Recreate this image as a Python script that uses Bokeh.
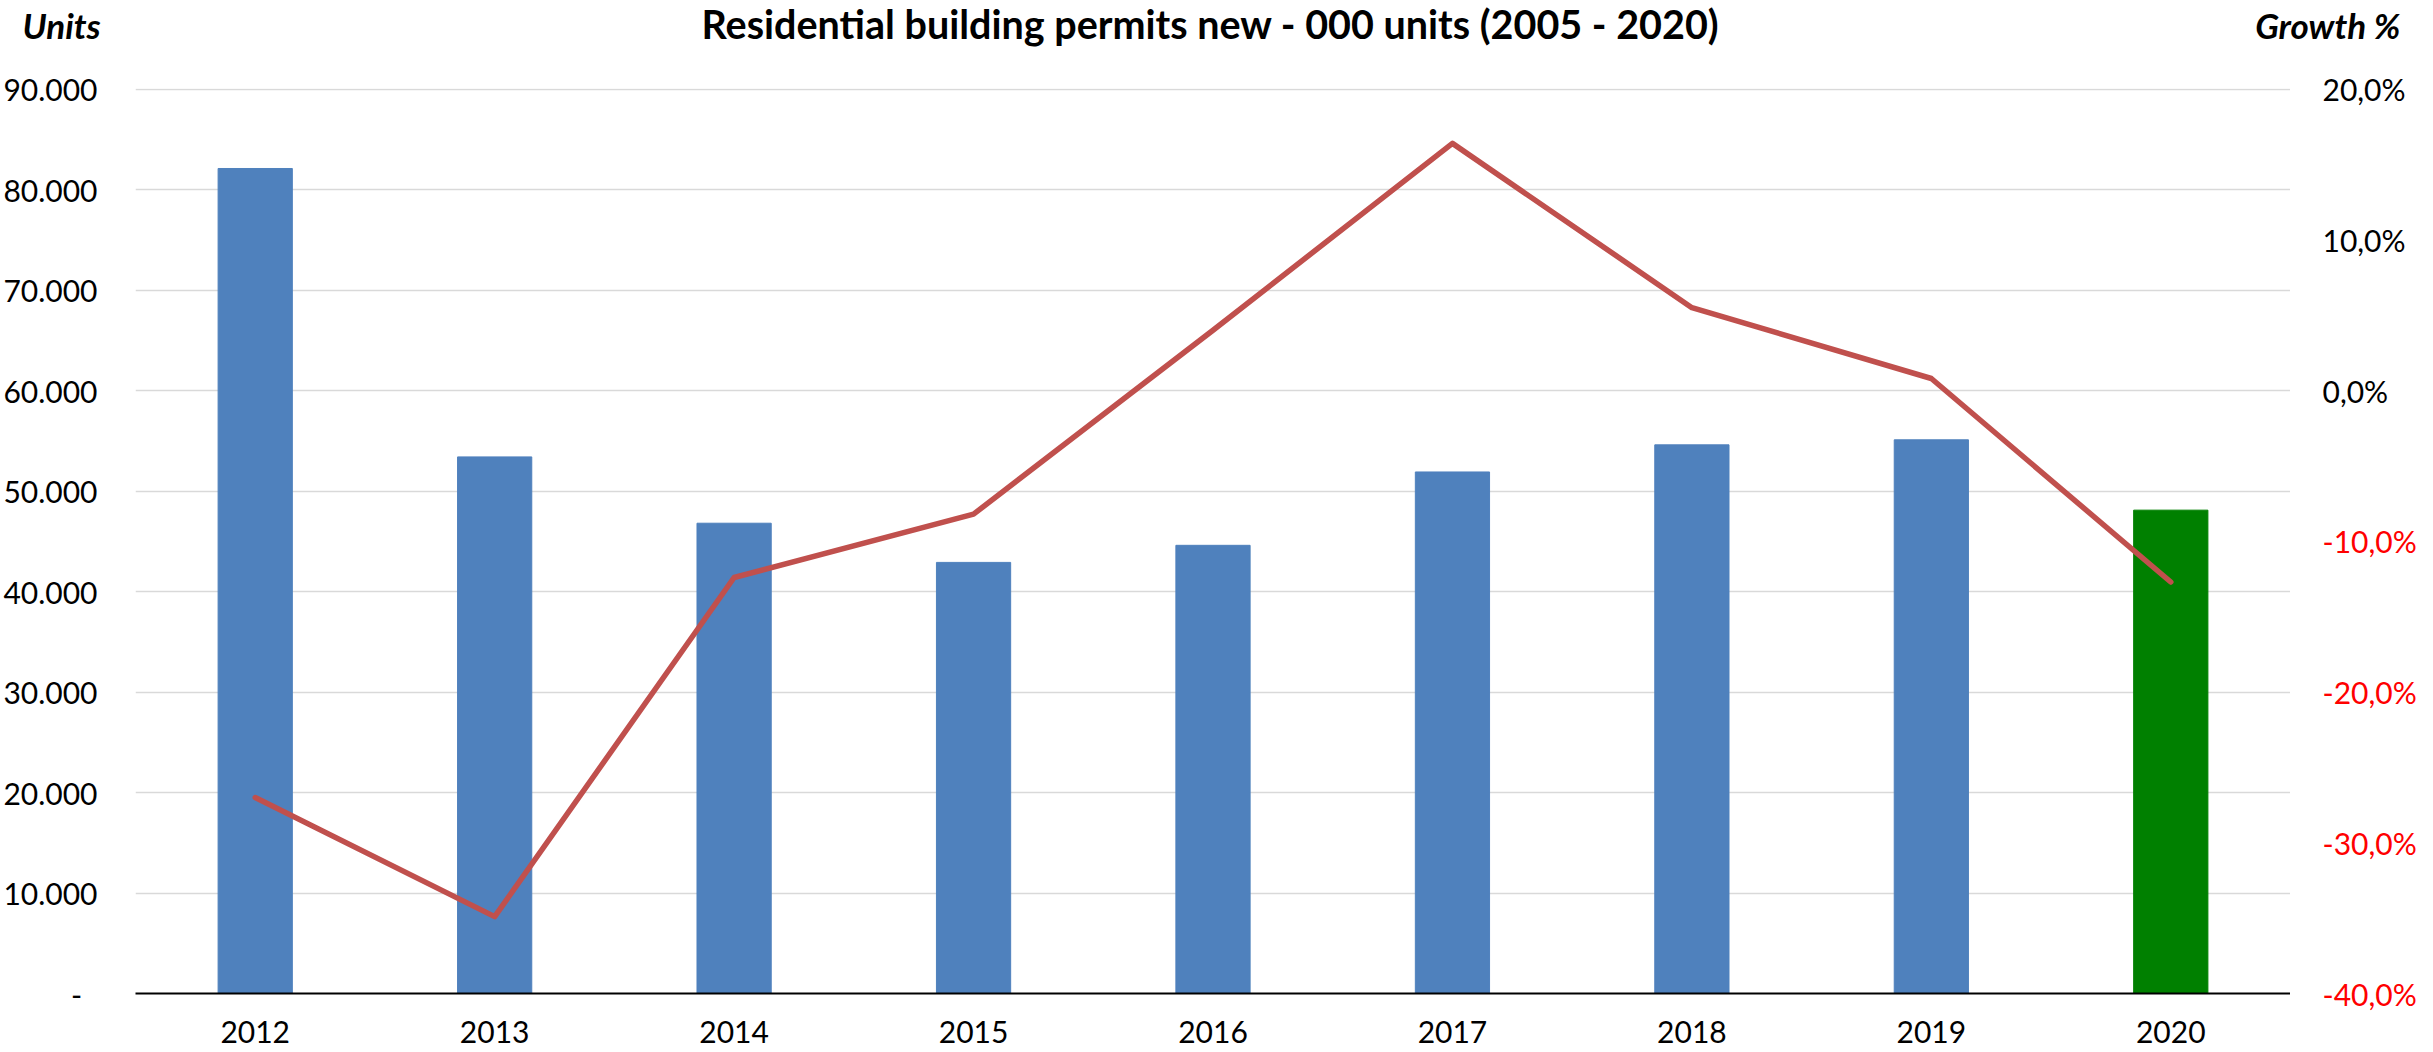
from bokeh.plotting import figure
from bokeh.models import Range1d, FixedTicker, CustomJSTickFormatter, ColumnDataSource
from bokeh.layouts import column, row
from bokeh.core.properties import value
from bokeh.embed import file_html
from bokeh.resources import INLINE

# ---- data ----
years = ["2012", "2013", "2014", "2015", "2016", "2017", "2018", "2019", "2020"]
units = [82100, 53400, 46800, 42900, 44600, 51900, 54600, 55100, 48100]
growth = [-27.0, -34.9, -12.4, -8.2, 4.0, 16.4, 5.5, 0.8, -12.7]
bar_colors = ["#4F81BD"] * 8 + ["#008000"]
left_ticks = [0, 10000, 20000, 30000, 40000, 50000, 60000, 70000, 80000, 90000]
right_ticks = [-40, -30, -20, -10, 0, 10, 20]
right_labels = ["-40,0%", "-30,0%", "-20,0%", "-10,0%", "0,0%", "10,0%", "20,0%"]
right_colors = ["#FF0000"] * 4 + ["#000000"] * 3
title_text = "Residential building permits new - 000 units (2005 - 2020)"
left_title = "Units"
right_title = "Growth %"

FONT = "Lato"
TICK_FS = "30px"
W, H = 2433, 1050
HH = 68                 # header height
H2 = H - HH             # body height
W1 = 2290               # main figure width (frame right edge)
W2 = W - W1             # side (right labels) width
BT, BB, BL = 20, 57, 135
FH = H2 - BT - BB       # frame height in px
E = 20                  # extra px of side frame above/below main frame

G0, G1 = -40, 20.04
growth_range = Range1d(G0, G1)

# ---- header ----
hdr = figure(width=W, height=HH, x_range=Range1d(0, W), y_range=Range1d(0, HH),
             output_backend="svg", toolbar_location=None, min_border=0,
             x_axis_type=None, y_axis_type=None, outline_line_color=None)
hdr.xgrid.visible = False
hdr.ygrid.visible = False
hdr.text(x=[1210], y=[HH - 23], text=[title_text],
         text_font=value(FONT), text_font_style="bold", text_font_size="39.5px",
         text_align="center", text_baseline="middle", text_color="black")
hdr.text(x=[22], y=[HH - 24], text=[left_title],
         text_font=value(FONT), text_font_style="bold italic", text_font_size="35px",
         text_align="left", text_baseline="middle", text_color="black")
hdr.text(x=[2400], y=[HH - 24], text=[right_title],
         text_font=value(FONT), text_font_style="bold italic", text_font_size="35px",
         text_align="right", text_baseline="middle", text_color="black")

# ---- main chart ----
p = figure(x_range=years, y_range=Range1d(0, 90060), width=W1, height=H2,
           output_backend="svg", toolbar_location=None,
           min_border_left=BL, min_border_right=0, min_border_top=BT,
           min_border_bottom=BB, outline_line_color=None)
p.extra_y_ranges = {"growth": growth_range}

src = ColumnDataSource(dict(years=years, units=units, growth=growth, color=bar_colors))
p.vbar(x="years", top="units", width=0.31, color="color", source=src)
p.line(x="years", y="growth", y_range_name="growth", line_color="#C0504D",
       line_width=5.5, line_join="round", line_cap="round", source=src)

ya = p.yaxis[0]
ya.ticker = FixedTicker(ticks=left_ticks)
ya.formatter = CustomJSTickFormatter(code="""
    if (tick == 0) { return "-\u00a0\u00a0"; }
    return String(Math.round(tick)).replace(/\\B(?=(\\d{3})+(?!\\d))/g, ".");
""")
ya.axis_line_color = None
ya.major_tick_line_color = None
ya.minor_tick_line_color = None
ya.major_label_standoff = 32
ya.major_label_text_font = FONT
ya.major_label_text_font_size = TICK_FS
ya.major_label_text_color = "black"

xa = p.xaxis[0]
xa.axis_line_color = "black"
xa.axis_line_width = 2
xa.major_tick_line_color = None
xa.minor_tick_line_color = None
xa.major_label_standoff = 21
xa.major_label_text_font = FONT
xa.major_label_text_font_size = TICK_FS
xa.major_label_text_color = "black"

p.xgrid.grid_line_color = None
p.ygrid.grid_line_color = "#D9D9D9"
p.ygrid.grid_line_width = 1.5
p.ygrid.ticker = FixedTicker(ticks=left_ticks)

# ---- side: right-axis tick labels on the growth scale ----
s = figure(x_range=Range1d(0, W2), width=W2, height=H2, output_backend="svg",
           toolbar_location=None, x_axis_type=None, y_axis_type=None,
           min_border_left=0, min_border_right=0, outline_line_color=None)
s.xgrid.visible = False
s.ygrid.visible = False
if "frame_align" in s.properties():
    # frame padded by E px above and below, same px-per-unit as the main chart
    s.frame_align = False
    p.frame_align = False
    k = (G1 - G0) / FH
    s.y_range = Range1d(G0 - E * k, G1 + E * k)
    s.min_border_top = BT - E
    s.min_border_bottom = BB - E
else:
    s.y_range = growth_range
    s.min_border_top = BT
    s.min_border_bottom = BB
rsrc = ColumnDataSource(dict(y=right_ticks, text=right_labels, color=right_colors,
                             x=[32] * len(right_ticks)))
s.text(x="x", y="y", text="text", text_color="color", source=rsrc,
       text_font=value(FONT), text_font_size=TICK_FS, text_align="left",
       text_baseline="middle")

layout = column(hdr, row(p, s))
open("out.html", "w").write(file_html(layout, INLINE))
